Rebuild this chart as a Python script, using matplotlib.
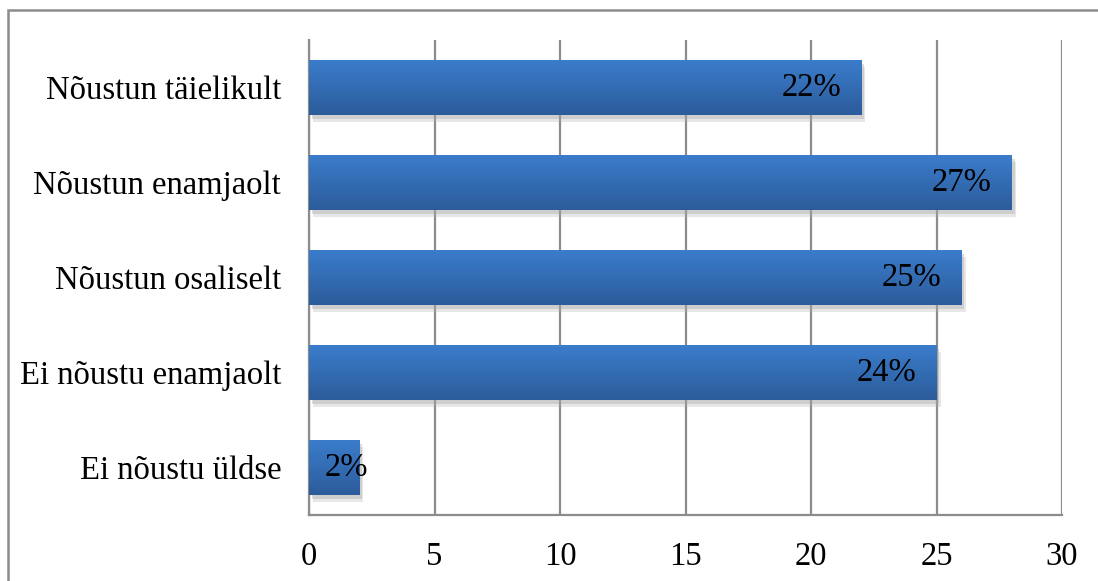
import numpy as np
import matplotlib
matplotlib.use("Agg")
import matplotlib.pyplot as plt
import matplotlib.patheffects as pe
from matplotlib.colors import LinearSegmentedColormap
from matplotlib.patches import Rectangle

categories = ["Nõustun täielikult", "Nõustun enamjaolt", "Nõustun osaliselt",
              "Ei nõustu enamjaolt", "Ei nõustu üldse"]
values = [22, 28, 26, 25, 2]
labels = ["22%", "27%", "25%", "24%", "2%"]
xticks = [0, 5, 10, 15, 20, 25, 30]

plt.rcParams["font.family"] = ["Liberation Serif", "DejaVu Serif"]

fig = plt.figure(figsize=(10.98, 5.81), dpi=100)
ax = fig.add_axes([309 / 1098, 1 - 515 / 581, (1062 - 309) / 1098, (515 - 40) / 581])

# outer chart frame (runs off the right and bottom edge)
fig.patches.append(Rectangle((8 / 1098, -0.05), 1.1, 1 - 9.5 / 581 + 0.05,
                             transform=fig.transFigure, fill=False,
                             edgecolor="#8c8c8c", linewidth=1.8))

# row 0 sits at the bar's lower screen edge -> dark there, light on top
grad_cmap = LinearSegmentedColormap.from_list("bar", ["#2c5c9b", "#3b7dcc"])
grad = np.linspace(0, 1, 64).reshape(-1, 1)

y = np.arange(len(categories))
bars = ax.barh(y, values, height=0.58, color="#3571ba", zorder=3,
               path_effects=[pe.SimplePatchShadow(offset=(3, -5), shadow_rgbFace="#b0b0b0", alpha=0.3),
                             pe.SimplePatchShadow(offset=(2, -3), shadow_rgbFace="#a0a0a0", alpha=0.35),
                             pe.Normal()])

for bar, lab, v in zip(bars, labels, values):
    x0, y0 = bar.get_x(), bar.get_y()
    w, h = bar.get_width(), bar.get_height()
    im = ax.imshow(grad, cmap=grad_cmap, aspect="auto", zorder=4,
                   extent=(x0, x0 + w, y0 + h, y0), origin="lower")
    im.set_clip_path(bar)
    if v > 5:
        ax.text(v - 0.8, y0 + h / 2, lab, ha="right", va="center",
                fontsize=23.5, color="black", zorder=5)
    else:
        ax.text(0.62, y0 + h / 2, lab, ha="left", va="center",
                fontsize=23.5, color="black", zorder=5)

ax.set_xlim(0, 30)
ax.set_ylim(len(categories) - 0.5, -0.5)
ax.set_xticks(xticks)
ax.set_xticklabels([str(t) for t in xticks])
ax.set_yticks(y)
ax.set_yticklabels(categories)
ax.tick_params(axis="both", length=0, labelsize=23.5)
ax.tick_params(axis="x", pad=19)
ax.tick_params(axis="y", pad=20)

ax.xaxis.grid(True, color="#8c8c8c", linewidth=1.6, zorder=1)
ax.set_axisbelow(True)
for side in ["top", "right"]:
    ax.spines[side].set_visible(False)
for side in ["left", "bottom"]:
    ax.spines[side].set_color("#8c8c8c")
    ax.spines[side].set_linewidth(1.6)

fig.savefig("out.png", dpi=100)
